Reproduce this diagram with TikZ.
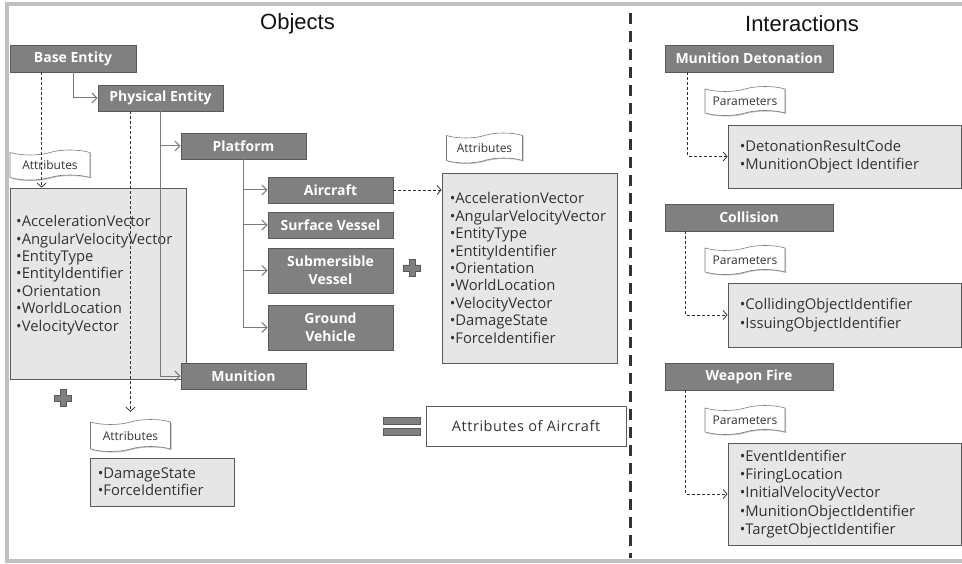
\documentclass[tikz,border=0pt]{standalone}
\usepackage{fontspec}
\setmainfont{Open Sans}
\newfontfamily\headfont{Liberation Sans}
\newfontfamily\spacedfont[LetterSpace=4]{Open Sans}
\usetikzlibrary{arrows.meta,shapes.symbols,shadows,calc}

\definecolor{framegray}{HTML}{C0C0C0}
\definecolor{boxgray}{HTML}{808080}
\definecolor{boxedge}{HTML}{595959}
\definecolor{listfill}{HTML}{E6E6E6}
\definecolor{inkgray}{HTML}{333333}
\definecolor{linegray}{HTML}{7A7A7A}
\definecolor{headink}{HTML}{111111}

\tikzset{
  softshadow/.style={drop shadow={shadow xshift=1.2pt, shadow yshift=-1.4pt, opacity=0.35, fill=black}},
  classbox/.style={draw=boxedge, fill=boxgray, line width=0.8pt, text=white,
    font=\fontsize{14}{18.3}\selectfont\bfseries, align=center, inner sep=0pt, softshadow},
  listbox/.style={draw=boxedge, fill=listfill, line width=0.8pt, inner sep=0pt, softshadow},
  plainbox/.style={draw=boxedge, fill=white, line width=0.8pt, inner sep=0pt, text=inkgray,
    font=\spacedfont\fontsize{14.5}{17}\selectfont, softshadow},
  listtext/.style={text=inkgray, font=\fontsize{14.8}{17.4}\selectfont, align=left, inner sep=0pt, anchor=west},
  paramtext/.style={listtext, font=\fontsize{14.8}{18.3}\selectfont},
  banner/.style={tape, draw=linegray, fill=white, tape bend height=5pt, line width=0.6pt,
    minimum width=80pt, minimum height=30pt, inner sep=0pt, text=inkgray,
    font=\fontsize{12}{14}\selectfont, drop shadow={shadow xshift=1pt, shadow yshift=-1pt, opacity=0.25, fill=black}},
  heading/.style={font=\headfont\fontsize{22}{25}\selectfont, text=headink, inner sep=0pt},
  tree/.style={draw=linegray, line width=1pt, -{Straight Barb[length=5pt,width=10pt]}},
  ref/.style={draw=inkgray, line width=0.8pt, dash pattern=on 3pt off 2pt,
    -{Straight Barb[length=4pt,width=9pt]}},
  signfill/.style={fill=boxgray, draw=boxedge, line width=0.8pt},
  plussign/.pic={\path[signfill] (-3,-8.5) -- (3,-8.5) -- (3,-3) -- (8.5,-3) -- (8.5,3) -- (3,3)
      -- (3,8.5) -- (-3,8.5) -- (-3,3) -- (-8.5,3) -- (-8.5,-3) -- (-3,-3) -- cycle;}
}

\begin{document}
\begin{tikzpicture}[x=1pt, y=-1pt]
\useasboundingbox (0,0) rectangle (962,564);

% outer frame (open on the right)
\draw[framegray, line width=4pt] (962,4.5) -- (6.5,4.5) -- (6.5,560.5) -- (962,560.5);

% divider between the two halves
\draw[inkgray, line width=3pt, dash pattern=on 11pt off 7pt] (630,13) -- (630,558);

% headings
\node[heading] (hobj) at (297.5,23.5) {Objects};
\node[heading] (hint) at (802,23.5) {Interactions};

% ---------------- Objects: attribute lists ----------------
\node[listbox, minimum width=176pt, minimum height=191pt] (attrA) at (98,283.5) {};
\node[listtext] (attrAtext) at (16,275) {%
  •AccelerationVector\\•AngularVelocityVector\\•EntityType\\•EntityIdentifier\\%
  •Orientation\\•WorldLocation\\•VelocityVector};

\node[listbox, minimum width=144pt, minimum height=48pt] (attrB) at (162,482) {};
\node[listtext] (attrBtext) at ($(attrB.west)+(8,0)$) {•DamageState\\•ForceIdentifier};

\node[listbox, minimum width=175pt, minimum height=190pt] (attrC) at (529.5,268) {};
\node[listtext] (attrCtext) at ($(attrC.west)+(8,0)$) {%
  •AccelerationVector\\•AngularVelocityVector\\•EntityType\\•EntityIdentifier\\%
  •Orientation\\•WorldLocation\\•VelocityVector\\•DamageState\\•ForceIdentifier};

% attribute banners
\node[banner] (banA) at (50,165) {Attributes};
\node[banner, minimum height=32pt] (banB) at (130.5,435.5) {Attributes};
\node[banner, minimum width=76pt] (banC) at (484.5,148) {Attributes};

% ---------------- Objects: class hierarchy ----------------
\node[classbox, minimum width=126pt, minimum height=27pt] (base) at (73,58.5) {Base Entity};
\node[classbox, minimum width=125pt, minimum height=26pt] (phys) at (160.5,98) {Physical Entity};
\node[classbox, minimum width=125pt, minimum height=26pt] (plat) at (243.5,146) {Platform};
\node[classbox, minimum width=125pt, minimum height=26pt] (air) at (330.5,190) {Aircraft};
\node[classbox, minimum width=125pt, minimum height=26pt] (surf) at (330.5,225) {Surface Vessel};
\node[classbox, minimum width=125pt, minimum height=45pt] (sub) at (330.5,270.5) {Submersible\\Vessel};
\node[classbox, minimum width=125pt, minimum height=45pt] (ground) at (330.5,327.5) {Ground\\Vehicle};
\node[classbox, minimum width=125pt, minimum height=26pt] (mun) at (243.5,376) {Munition};

% inheritance links
\draw[tree] (base.south) |- (phys.west);
\draw[tree] (phys.south) |- (plat.west);
\draw[tree] (phys.south) |- (mun.west);
\draw[tree] (plat.south) |- (air.west);
\draw[tree] (plat.south) |- (surf.west);
\draw[tree] (plat.south) |- (sub.west);
\draw[tree] (plat.south) |- (ground.west);

% attribute references
\draw[ref] ($(base.south west)+(32,0)$) -- ($(attrA.north west)+(32,0)$);
\draw[ref, shorten >=10pt] (phys.south -| banB.north) -- (banB.north);
\draw[ref] (air.east) -- (air.east -| attrC.west);

% plus / equals signs and the result
\pic (plusA) at (63,398) {plussign};
\pic (plusB) at (412,268) {plussign};
\path[signfill] (383,417) rectangle (420,424);
\path[signfill] (383,428) rectangle (420,435);
\node[plainbox, minimum width=200pt, minimum height=40pt] (result) at (526,426) {Attributes of Aircraft};

% ---------------- Interactions ----------------
\node[classbox, minimum width=168pt, minimum height=27pt] (det) at (749,58.5) {Munition Detonation};
\node[classbox, minimum width=168pt, minimum height=27pt] (col) at (749,217.5) {Collision};
\node[classbox, minimum width=168pt, minimum height=27pt] (fire) at (749,376.5) {Weapon Fire};

\node[listbox, minimum width=233pt, minimum height=63pt] (detP) at (844.5,156.5) {};
\node[paramtext] (detPtext) at ($(detP.west)+(12,0)$)
  {•DetonationResultCode\\•MunitionObject Identifier};
\node[listbox, minimum width=233pt, minimum height=64pt] (colP) at (844.5,315) {};
\node[paramtext] (colPtext) at ($(colP.west)+(12,0)$)
  {•CollidingObjectIdentifier\\•IssuingObjectIdentifier};
\node[listbox, minimum width=233pt, minimum height=102pt] (fireP) at (844.5,494) {};
\node[paramtext] (firePtext) at ($(fireP.west)+(12,0)$)
  {•EventIdentifier\\•FiringLocation\\•InitialVelocityVector\\•MunitionObjectIdentifier\\•TargetObjectIdentifier};

\node[banner, minimum height=29pt] (banD) at (745,101) {Parameters};
\node[banner, minimum height=29pt] (banE) at (745,260) {Parameters};
\node[banner, minimum height=29pt] (banF) at (745,420) {Parameters};

\draw[ref] ($(det.south west)+(23,0)$) |- (detP.west);
\draw[ref] ($(col.south west)+(21,0)$) |- (colP.west);
\draw[ref] ($(fire.south west)+(21,0)$) |- (fireP.west);
\end{tikzpicture}
\end{document}
